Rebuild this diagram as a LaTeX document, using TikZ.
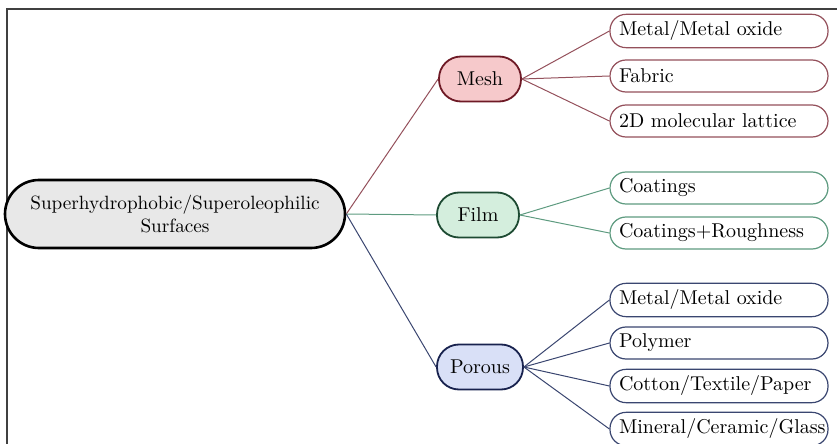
\documentclass[tikz,border=0pt]{standalone}
\usepackage{xcolor}
\usepackage{tikz}
\usetikzlibrary{positioning}
\definecolor{meshfill}{HTML}{F6C9CB}
\definecolor{meshdraw}{HTML}{6E1A26}
\definecolor{meshline}{HTML}{94505B}
\definecolor{filmfill}{HTML}{D4EEDD}
\definecolor{filmdraw}{HTML}{1D4A32}
\definecolor{filmline}{HTML}{5E9B80}
\definecolor{porfill}{HTML}{D9E0F7}
\definecolor{pordraw}{HTML}{18224E}
\definecolor{porline}{HTML}{3A4670}
\tikzstyle{rootbox} = [rectangle, rounded corners=17pt, minimum width=170pt, minimum height=34pt, align=center, draw=black, line width=1.3pt, fill=gray!18, font=\fontsize{9.6}{11.5}\selectfont]
\tikzstyle{catbox} = [rectangle, rounded corners=11pt, minimum width=41pt, minimum height=22.5pt, text centered, line width=0.9pt]
\tikzstyle{leafbox} = [rectangle, rounded corners=8pt, minimum width=109pt, minimum height=16pt, text width=100pt, inner xsep=4.5pt, align=left, fill=white, line width=0.6pt]
\tikzstyle{link} = [line width=0.5pt]

\begin{document}
\begin{tikzpicture}[x=0.5pt, y=-0.5pt, node distance=22.5pt]
\useasboundingbox (0,0) rectangle (837,444);
\draw [line width=1.2pt, black!75] (7,450) -- (7,9) -- (840,9);

\node (root) [rootbox] at (175,214) {Superhydrophobic/Superoleophilic\\Surfaces};
\node (mesh) [catbox, draw=meshdraw, fill=meshfill] at (480,79) {Mesh};
\node (film) [catbox, draw=filmdraw, fill=filmfill] at (478,215) {Film};
\node (porous) [catbox, draw=pordraw, fill=porfill, minimum width=43pt] at (480,367) {Porous};

% mesh leaves
\node (meshA) [leafbox, draw=meshline] at (719,31) {Metal/Metal oxide};
\node (meshB) [leafbox, draw=meshline, below of=meshA] {Fabric};
\node (meshC) [leafbox, draw=meshline, below of=meshB] {2D molecular lattice};
% film leaves
\node (filmA) [leafbox, draw=filmline] at (719,188) {Coatings};
\node (filmB) [leafbox, draw=filmline, below of=filmA] {Coatings+Roughness};
% porous leaves
\node (porA) [leafbox, draw=porline] at (719,300) {Metal/Metal oxide};
\node (porB) [leafbox, draw=porline, below of=porA, yshift=1pt] {Polymer};
\node (porC) [leafbox, draw=porline, below of=porB, yshift=1pt] {Cotton/Textile/Paper};
\node (porD) [leafbox, draw=porline, below of=porC, yshift=1pt] {Mineral/Ceramic/Glass};

\draw [link, meshline] (root.east) -- (mesh.west);
\draw [link, filmline] (root.east) -- (film.west);
\draw [link, porline] (root.east) -- (porous.west);
\draw [link, meshline] (mesh.east) -- (meshA.west);
\draw [link, meshline] (mesh.east) -- (meshB.west);
\draw [link, meshline] (mesh.east) -- (meshC.west);
\draw [link, filmline] (film.east) -- (filmA.west);
\draw [link, filmline] (film.east) -- (filmB.west);
\draw [link, porline] (porous.east) -- (porA.west);
\draw [link, porline] (porous.east) -- (porB.west);
\draw [link, porline] (porous.east) -- (porC.west);
\draw [link, porline] (porous.east) -- (porD.west);
\end{tikzpicture}
\end{document}
